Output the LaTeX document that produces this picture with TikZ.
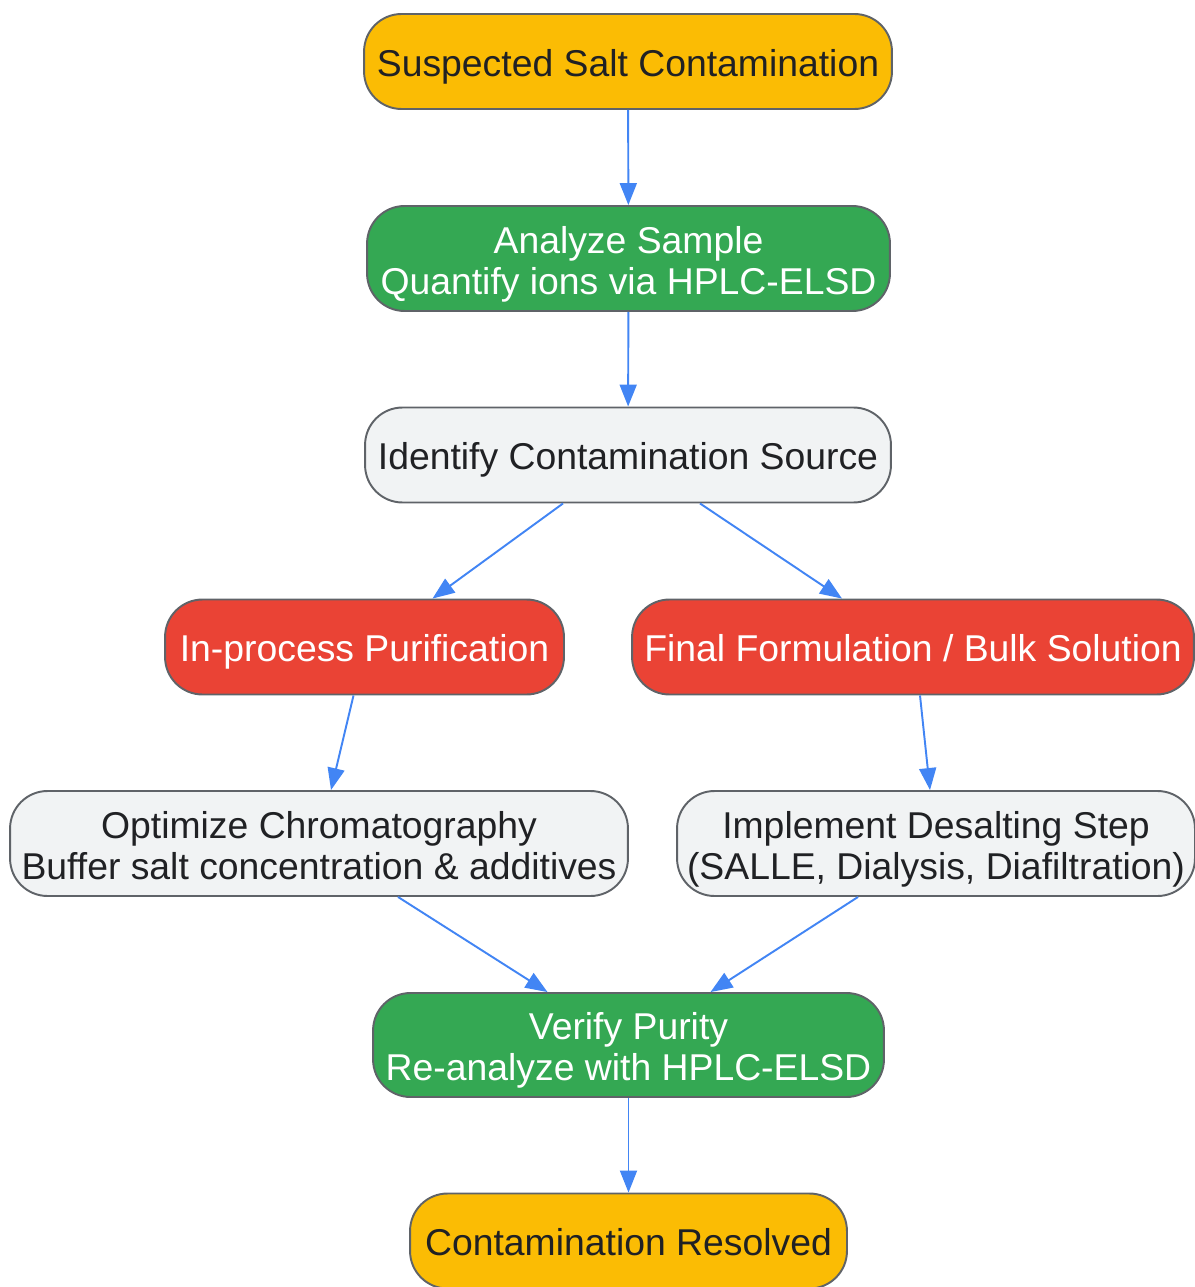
\documentclass[tikz,border=0pt]{standalone}
\usepackage{fontspec}
\setmainfont{Liberation Sans}
\usetikzlibrary{arrows.meta,calc}
\definecolor{gyellow}{HTML}{FBBC04}
\definecolor{ggreen}{HTML}{34A853}
\definecolor{gred}{HTML}{EA4335}
\definecolor{glight}{HTML}{F1F3F4}
\definecolor{gborder}{HTML}{5F6368}
\definecolor{gblue}{HTML}{4285F4}
\definecolor{gtext}{HTML}{202124}
\begin{document}
\begin{tikzpicture}[x=0.02cm, y=-0.02cm,
  box/.style={draw=gborder, line width=1.1pt, rounded corners=0.75cm, align=center,
    inner sep=0pt, font=\fontsize{21.25pt}{23.4pt}\selectfont, text=gtext,
    text height=17pt, text depth=0.3pt},
  twolines/.style={text height=41pt},
  yellowbox/.style={box, fill=gyellow},
  greenbox/.style={box, fill=ggreen, text=white},
  redbox/.style={box, fill=gred, text=white},
  greybox/.style={box, fill=glight},
  flow/.style={draw=gblue, line width=1.1pt, -{Triangle[length=0.44cm, width=0.34cm]}}]
\useasboundingbox (0,0) rectangle (1195,1287);
\node[yellowbox, minimum width=10.56cm, minimum height=1.9cm] (P_0_0) at (628,61.5) {Suspected Salt Contamination};
\node[greenbox, twolines, minimum width=10.46cm, minimum height=2.1cm] (P_1_0) at (628.5,258.5) {Analyze Sample\\Quantify ions via HPLC-ELSD};
\draw[flow] (P_0_0) -- (P_1_0);
\node[greybox, minimum width=10.52cm, minimum height=1.9cm] (P_2_0) at (628,455) {Identify Contamination Source};
\draw[flow] (P_1_0) -- (P_2_0);
\node[redbox, minimum width=7.98cm, minimum height=1.9cm] (P_3_0) at (364.5,647) {In-process Purification};
\draw[flow] ($(P_2_0.south)+(-65,0)$) -- ($(P_3_0.north)+(68,0)$);
\node[redbox, minimum width=11.24cm, minimum height=1.9cm] (P_3_1) at (913,647) {Final Formulation / Bulk Solution};
\draw[flow] ($(P_2_0.south)+(72,0)$) -- ($(P_3_1.north)+(-71,0)$);
\node[greybox, twolines, minimum width=12.36cm, minimum height=2.1cm] (P_4_0) at (319,843.5) {Optimize Chromatography\\Buffer salt concentration \& additives};
\draw[flow] ($(P_3_0.south)+(-11,0)$) -- ($(P_4_0.north)+(12,0)$);
\node[greybox, twolines, minimum width=10.36cm, minimum height=2.1cm] (P_4_1) at (936,843.5) {Implement Desalting Step\\(SALLE, Dialysis, Diafiltration)};
\draw[flow] ($(P_3_1.south)+(7,0)$) -- ($(P_4_1.north)+(-6,0)$);
\node[greenbox, twolines, minimum width=10.22cm, minimum height=2.08cm] (P_5_0) at (628.5,1045) {Verify Purity\\Re-analyze with HPLC-ELSD};
\draw[flow] ($(P_4_0.south)+(79,0)$) -- ($(P_5_0.north)+(-81,0)$);
\draw[flow] ($(P_4_1.south)+(-78,0)$) -- ($(P_5_0.north)+(82,0)$);
\node[yellowbox, minimum width=8.74cm, minimum height=1.9cm] (P_6_0) at (628.5,1241) {Contamination Resolved};
\draw[flow] (P_5_0) -- (P_6_0);
\end{tikzpicture}
\end{document}
